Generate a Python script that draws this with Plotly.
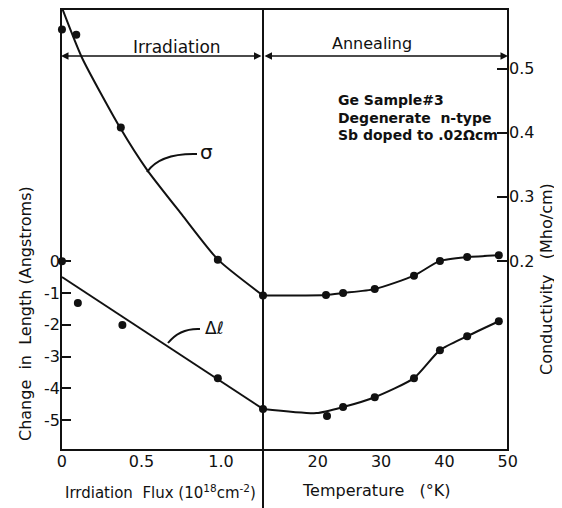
import plotly.graph_objects as go

# ---------------- data ----------------
# Irradiation panel (x = flux, 10^18 cm^-2)
flux_sigma_pts = [0.0, 0.09, 0.37, 0.98, 1.264]
sigma_pts_irr = [0.561, 0.553, 0.408, 0.202, 0.146]
flux_sigma_curve = [0.0, 0.126, 0.365, 0.535, 0.761, 0.981, 1.264]
sigma_curve_irr = [0.595, 0.517, 0.408, 0.342, 0.270, 0.202, 0.146]

flux_dl_pts = [0.0, 0.10, 0.38, 0.98, 1.264]
dl_pts_irr = [0.0, -1.32, -2.01, -3.68, -4.65]
flux_dl_line = [0.0, 1.264]
dl_line_irr = [-0.5, -4.65]

# Annealing panel (x = temperature, K)
temp_pts = [21.3, 24.0, 29.0, 35.2, 39.3, 43.6, 48.6]
sigma_pts_ann = [0.147, 0.150, 0.156, 0.177, 0.200, 0.206, 0.209]
temp_sigma_curve = [11.35, 21.3, 24.0, 29.0, 35.2, 39.3, 43.6, 48.6]
sigma_curve_ann = [0.146, 0.147, 0.150, 0.156, 0.177, 0.200, 0.206, 0.209]

temp_dl_pts = [21.46, 24.0, 29.0, 35.2, 39.3, 43.6, 48.6]
dl_pts_ann = [-4.87, -4.59, -4.28, -3.68, -2.80, -2.36, -1.89]
temp_dl_curve = [11.35, 19.8, 24.0, 29.0, 35.2, 39.3, 43.6, 48.6]
dl_curve_ann = [-4.65, -4.78, -4.59, -4.28, -3.68, -2.80, -2.36, -1.89]

flux_ticks = [0, 0.5, 1.0]
flux_ticklabels = ["0", "0.5", "1.0"]
temp_ticks = [20, 30, 40, 50]
temp_ticklabels = ["20", "30", "40", "50"]
dl_ticks = [0, -1, -2, -3, -4, -5]
dl_ticklabels = ["0", "-1", "-2", "-3", "-4", "-5"]
sigma_ticks = [0.2, 0.3, 0.4, 0.5]
sigma_ticklabels = ["0.2", "0.3", "0.4", "0.5"]

# ---------------- figure ----------------
FONT = "DejaVu Sans"
BLACK = "#111111"
OFF = 8                      # page body margin
PAGE_W, PAGE_H = 562, 508
W, H = PAGE_W - OFF, PAGE_H - OFF
FL, FR, FT, FB = 61, 508, 9, 450   # frame in page pixels
L, R, T, B = FL - OFF, PAGE_W - FR, FT - OFF, PAGE_H - FB
PW, PH = W - L - R, H - T - B


def px(x):
    return (x - OFF - L) / PW


def py(y):
    return (H - B - (y - OFF)) / PH


split = px(263)

fig = go.Figure()

mk = dict(color=BLACK, size=8)

fig.add_trace(go.Scatter(x=flux_sigma_curve, y=sigma_curve_irr, xaxis="x", yaxis="y2",
                         mode="lines", line=dict(color=BLACK, width=2, shape="spline", smoothing=0.6),
                         cliponaxis=False, showlegend=False))
fig.add_trace(go.Scatter(x=flux_sigma_pts, y=sigma_pts_irr, xaxis="x", yaxis="y2",
                         mode="markers", marker=mk, cliponaxis=False, showlegend=False))
fig.add_trace(go.Scatter(x=flux_dl_line, y=dl_line_irr, xaxis="x", yaxis="y",
                         mode="lines", line=dict(color=BLACK, width=2), cliponaxis=False,
                         showlegend=False))
fig.add_trace(go.Scatter(x=flux_dl_pts, y=dl_pts_irr, xaxis="x", yaxis="y",
                         mode="markers", marker=mk, cliponaxis=False, showlegend=False))

fig.add_trace(go.Scatter(x=temp_sigma_curve, y=sigma_curve_ann, xaxis="x2", yaxis="y2",
                         mode="lines", line=dict(color=BLACK, width=2, shape="spline", smoothing=0.6),
                         cliponaxis=False, showlegend=False))
fig.add_trace(go.Scatter(x=temp_pts, y=sigma_pts_ann, xaxis="x2", yaxis="y2",
                         mode="markers", marker=mk, cliponaxis=False, showlegend=False))
fig.add_trace(go.Scatter(x=temp_dl_curve, y=dl_curve_ann, xaxis="x2", yaxis="y",
                         mode="lines", line=dict(color=BLACK, width=2, shape="spline", smoothing=0.6),
                         cliponaxis=False, showlegend=False))
fig.add_trace(go.Scatter(x=temp_dl_pts, y=dl_pts_ann, xaxis="x2", yaxis="y",
                         mode="markers", marker=mk, cliponaxis=False, showlegend=False))

tickfont = dict(family=FONT, size=16, color=BLACK)

fig.update_layout(
    width=W, height=H,
    margin=dict(l=L, r=R, t=T, b=B, pad=0),
    paper_bgcolor="white", plot_bgcolor="white",
    font=dict(family=FONT, color=BLACK),
    xaxis=dict(domain=[0, split], range=[-0.006, 1.264], tickvals=flux_ticks,
               ticktext=flux_ticklabels, showgrid=False, zeroline=False, showline=False,
               ticks="", tickfont=tickfont, anchor="y"),
    xaxis2=dict(domain=[split, 1], range=[11.35, 50.05], tickvals=temp_ticks,
                ticktext=temp_ticklabels, showgrid=False, zeroline=False, showline=False,
                ticks="", tickfont=tickfont, anchor="y"),
    yaxis=dict(domain=[0, 1], range=[-5.94, 7.93], tickvals=dl_ticks, ticktext=dl_ticklabels,
               showgrid=False, zeroline=False, showline=False, ticks="inside", ticklen=10,
               tickwidth=2, tickcolor=BLACK, tickfont=tickfont, anchor="x", side="left"),
    yaxis2=dict(domain=[0, 1], range=[-0.095, 0.593], tickvals=sigma_ticks,
                ticktext=sigma_ticklabels, showgrid=False, zeroline=False, showline=False,
                ticks="inside", ticklen=11, tickwidth=2, tickcolor=BLACK, tickfont=tickfont,
                anchor="x2", side="right", overlaying="y"),
)

shapes = [
    dict(type="rect", xref="paper", yref="paper", x0=0, x1=1, y0=0, y1=1,
         line=dict(color=BLACK, width=2)),
    dict(type="line", xref="paper", yref="paper", x0=split, x1=split, y0=1, y1=py(PAGE_H),
         line=dict(color=BLACK, width=2)),
    # curved pointer for sigma
    dict(type="path", xref="paper", yref="paper",
         path=f"M {px(197)},{py(154)} Q {px(160)},{py(153)} {px(147)},{py(172)}",
         line=dict(color=BLACK, width=2)),
    # curved pointer for delta l
    dict(type="path", xref="paper", yref="paper",
         path=f"M {px(200)},{py(329)} Q {px(180)},{py(328)} {px(168)},{py(343)}",
         line=dict(color=BLACK, width=2)),
]
fig.update_layout(shapes=shapes)

ann = []
ay_line = py(56)
ann.append(dict(xref="paper", yref="paper", x=0, y=ay_line, ax=202, ay=0, text="",
                showarrow=True, arrowhead=2, arrowside="end+start", arrowsize=1,
                arrowwidth=1.5, arrowcolor=BLACK, standoff=0, startstandoff=0))
ann.append(dict(xref="paper", yref="paper", x=1, y=ay_line, ax=-245, ay=0, text="",
                showarrow=True, arrowhead=2, arrowside="end+start", arrowsize=1,
                arrowwidth=1.5, arrowcolor=BLACK, standoff=0, startstandoff=0))


def txt(x, y, s, size=16, angle=0, xanchor="center", weight="normal"):
    ann.append(dict(xref="paper", yref="paper", x=px(x), y=py(y), text=s, showarrow=False,
                    textangle=angle, xanchor=xanchor, yanchor="middle",
                    font=dict(family=FONT, size=size, color=BLACK, weight=weight)))


txt(177, 47, "Irradiation", 17)
txt(372, 43, "Annealing", 16)
txt(336, 100, "Ge Sample#3", 14, xanchor="left", weight="bold")
txt(336, 118, "Degenerate  n-type", 14, xanchor="left", weight="bold")
txt(336, 135, "Sb doped to .02Ωcm", 14, xanchor="left", weight="bold")
txt(206, 152, "σ", 20)
txt(214, 328, "Δℓ", 17)
txt(25, 314, "Change  in  Length (Angstroms)", 16, angle=-90)
txt(546, 279, "Conductivity   (Mho/cm)", 16, angle=-90)
txt(160, 492, "Irrdiation  Flux (10<sup>18</sup>cm<sup>-2</sup>)", 15)
txt(376, 490, "Temperature   (°K)", 16)

fig.update_layout(annotations=ann)

fig.write_html("out.html")
